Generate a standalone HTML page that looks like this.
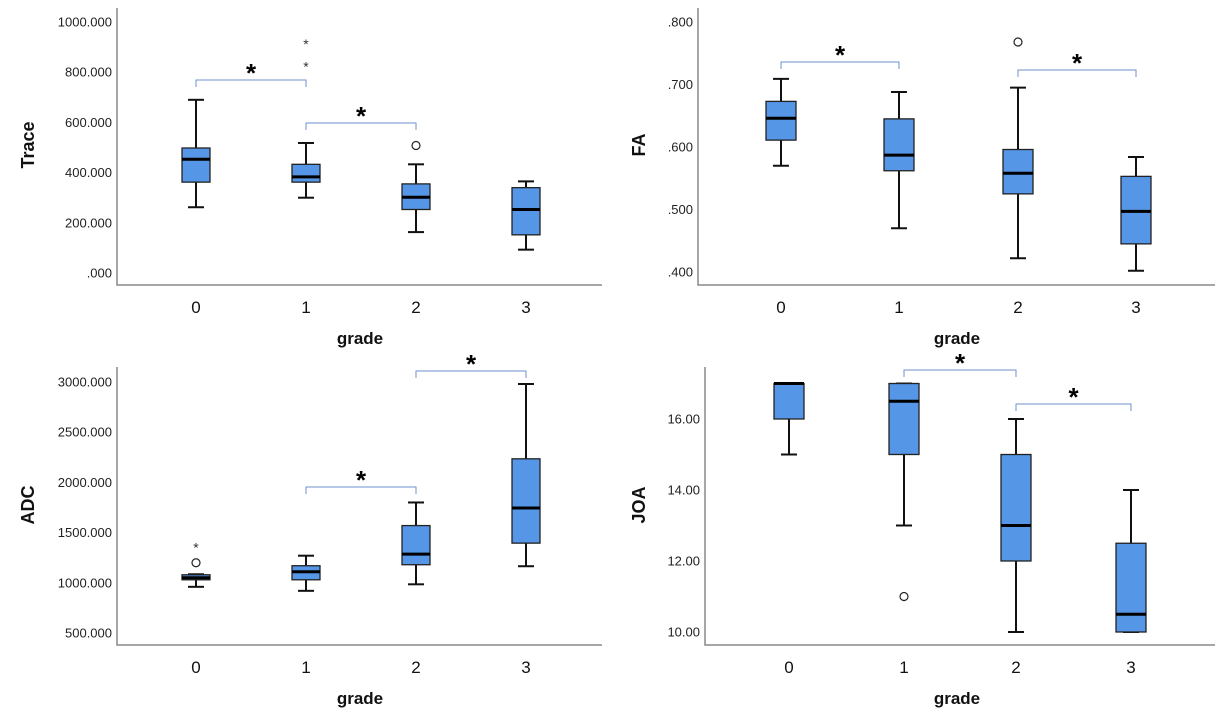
<!DOCTYPE html>
<html><head><meta charset="utf-8"><style>
html,body{margin:0;padding:0;background:#fff;}
svg{display:block;font-family:"Liberation Sans",sans-serif;}
</style></head><body>
<svg id="chart" width="1224" height="724" viewBox="0 0 1224 724"></svg>
<script>
const categories = ["0","1","2","3"];
// Trace
const traceMin = [262,300,163,93];
const traceQ1 = [362,362,253,152];
const traceMed = [453,383,302,253];
const traceQ3 = [498,433,355,340];
const traceMax = [690,518,433,365];
const traceTicks = [0,200,400,600,800,1000];
const traceTickLabels = [".000","200.000","400.000","600.000","800.000","1000.000"];
const traceOutCircle = [[2,508]];
const traceOutStar = [[1,830],[1,920]];
// FA
const faMin = [0.570,0.470,0.422,0.402];
const faQ1 = [0.611,0.562,0.525,0.445];
const faMed = [0.646,0.587,0.558,0.497];
const faQ3 = [0.673,0.645,0.596,0.553];
const faMax = [0.709,0.688,0.695,0.584];
const faTicks = [0.4,0.5,0.6,0.7,0.8];
const faTickLabels = [".400",".500",".600",".700",".800"];
const faOutCircle = [[2,0.768]];
const faOutStar = [];
// ADC
const adcMin = [960,920,985,1165];
const adcQ1 = [1030,1030,1180,1395];
const adcMed = [1050,1110,1285,1745];
const adcQ3 = [1080,1170,1570,2235];
const adcMax = [1085,1270,1800,2980];
const adcTicks = [500,1000,1500,2000,2500,3000];
const adcTickLabels = ["500.000","1000.000","1500.000","2000.000","2500.000","3000.000"];
const adcOutCircle = [[0,1200]];
const adcOutStar = [[0,1370]];
// JOA
const joaMin = [15,13,10,10];
const joaQ1 = [16,15,12,10];
const joaMed = [17,16.5,13,10.5];
const joaQ3 = [17,17,15,12.5];
const joaMax = [17,17,16,14];
const joaTicks = [10,12,14,16];
const joaTickLabels = ["10.00","12.00","14.00","16.00"];
const joaOutCircle = [[1,11]];
const joaOutStar = [];

const NS="http://www.w3.org/2000/svg";
const svg=document.getElementById('chart');
function mk(tag,attrs,parent,text){const e=document.createElementNS(NS,tag);for(const k in attrs)e.setAttribute(k,attrs[k]);if(text!==undefined)e.textContent=text;(parent||svg).appendChild(e);return e;}

function panel(o){
  const g=mk('g',{});
  
  
  const y=v=>o.y0+(v-o.v0)*(o.y1-o.y0)/(o.v1-o.v0);
  const x=i=>o.cx[i];
  const ax=mk('path',{d:`M${o.ax} ${o.top} V${o.bot} H${o.right}`,stroke:'#888',fill:'none','stroke-width':1.5},g);
  
  
  o.ticks.forEach((t,i)=>{
    const tl=mk('text',{x:o.ax-5,y:y(t)+4.5,'text-anchor':'end','font-size':13,fill:'#222'},g,o.tickLabels[i]);
    
    
  });
  categories.forEach((c,i)=>{
    const t=mk('text',{x:x(i),y:o.bot+28,'text-anchor':'middle','font-size':17,fill:'#111'},g,c);
    
    
  });
  const xt=mk('text',{x:o.gx,y:o.bot+59,'text-anchor':'middle','font-size':17,'font-weight':'bold',fill:'#111'},g,'grade');
  
  
  const yt=mk('text',{x:o.lx,y:o.ly,'text-anchor':'middle','font-size':18,'font-weight':'bold',fill:'#111',transform:`rotate(-90 ${o.lx} ${o.ly})`},g,o.label);
  
  
  const w=o.bw/2;
  categories.forEach((c,i)=>{
    const bg=mk('g',{},g);
    
    
    const X=x(i);
    mk('line',{x1:X,x2:X,y1:y(o.max[i]),y2:y(o.q3[i]),stroke:'#111','stroke-width':2},bg);
    mk('line',{x1:X,x2:X,y1:y(o.q1[i]),y2:y(o.min[i]),stroke:'#111','stroke-width':2},bg);
    mk('line',{x1:X-8,x2:X+8,y1:y(o.max[i]),y2:y(o.max[i]),stroke:'#111','stroke-width':2},bg);
    mk('line',{x1:X-8,x2:X+8,y1:y(o.min[i]),y2:y(o.min[i]),stroke:'#111','stroke-width':2},bg);
    mk('rect',{x:X-w,y:y(o.q3[i]),width:o.bw,height:Math.max(1,y(o.q1[i])-y(o.q3[i])),fill:'#5596e6',stroke:'#222','stroke-width':1.3},bg);
    mk('line',{x1:X-w,x2:X+w,y1:y(o.med[i]),y2:y(o.med[i]),stroke:'#000','stroke-width':3},bg);
  });
  o.circ.forEach(p=>{
    const c=mk('circle',{cx:x(p[0]),cy:y(p[1]),r:4,fill:'#fff',stroke:'#222','stroke-width':1.2},g);
    
    
  });
  o.star.forEach(p=>{
    const s=mk('text',{x:x(p[0]),y:y(p[1])+7,'text-anchor':'middle','font-size':14,fill:'#333'},g,'*');
    
    
  });
  o.br.forEach(b=>{
    const x1=x(b[0]),x2=x(b[1]);
    const p=mk('path',{d:`M${x1} ${b[2]+7} V${b[2]} H${x2} V${b[2]+7}`,stroke:'#6f92cc',fill:'none','stroke-width':1},g);
    
    
    const s=mk('text',{x:(x1+x2)/2,y:b[2]+2,'text-anchor':'middle','font-size':26,'font-weight':'bold',fill:'#000'},g,'*');
    
    
  });
}
panel({name:'trace',label:'Trace',ax:117,top:8,bot:285,right:602,y0:273,v0:0,y1:22,v1:1000,cx:[196,306,416,526],bw:28,
  min:traceMin,q1:traceQ1,med:traceMed,q3:traceQ3,max:traceMax,ticks:traceTicks,tickLabels:traceTickLabels,circ:traceOutCircle,star:traceOutStar,
  br:[[0,1,80],[1,2,123]],gx:360,lx:34,ly:145});
panel({name:'fa',label:'FA',ax:698,top:8,bot:285,right:1215,y0:272,v0:0.4,y1:22,v1:0.8,cx:[781,899,1018,1136],bw:30,
  min:faMin,q1:faQ1,med:faMed,q3:faQ3,max:faMax,ticks:faTicks,tickLabels:faTickLabels,circ:faOutCircle,star:faOutStar,
  br:[[0,1,62],[2,3,70]],gx:957,lx:645,ly:145});
panel({name:'adc',label:'ADC',ax:117,top:367,bot:645,right:602,y0:633,v0:500,y1:382,v1:3000,cx:[196,306,416,526],bw:28,
  min:adcMin,q1:adcQ1,med:adcMed,q3:adcQ3,max:adcMax,ticks:adcTicks,tickLabels:adcTickLabels,circ:adcOutCircle,star:adcOutStar,
  br:[[1,2,487],[2,3,371]],gx:360,lx:34,ly:505});
panel({name:'joa',label:'JOA',ax:705,top:367,bot:645,right:1215,y0:632,v0:10,y1:419,v1:16,cx:[789,904,1016,1131],bw:30,
  min:joaMin,q1:joaQ1,med:joaMed,q3:joaQ3,max:joaMax,ticks:joaTicks,tickLabels:joaTickLabels,circ:joaOutCircle,star:joaOutStar,
  br:[[1,2,370],[2,3,404]],gx:957,lx:645,ly:505});
</script>
</body></html>
